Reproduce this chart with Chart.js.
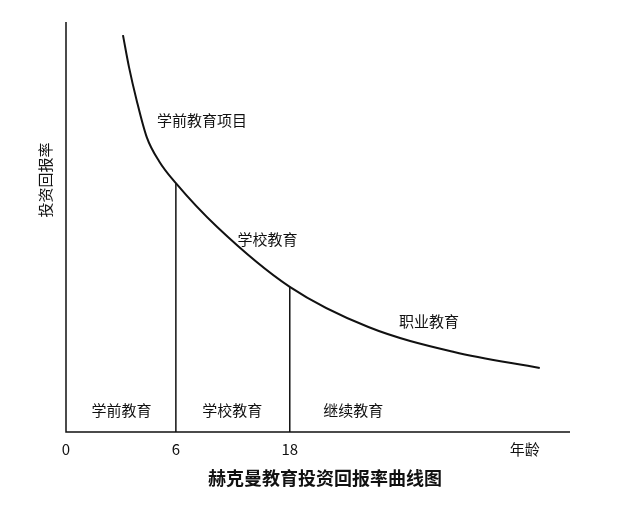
<!DOCTYPE html>
<html><head><meta charset="utf-8">
<script src="https://cdn.jsdelivr.net/npm/chart.js@4"></script>
<style>body{margin:0;background:#fff}#w{width:640px;height:518px}</style>
</head><body><div id="w"><canvas id="c"></canvas></div>
<script>
const curveX = [11.3, 12.5, 14, 16, 18.5, 21.8, 30, 44.4, 60, 77, 94];
const curveY = [96.8, 89, 81, 72, 66, 60.7, 50, 35.4, 25.6, 19.5, 15.6];
const dividers = [21.8, 44.4];
const tickPos = [0, 21.8, 44.4, 91];
const tickLabels = ["0", "6", "18", "年龄"];
const curveLabels = [{x:27,y:76,t:"学前教育项目"},{x:40,y:47,t:"学校教育"},{x:72,y:27,t:"职业教育"}];
const bandLabels = [{x:11,t:"学前教育"},{x:33,t:"学校教育"},{x:57,t:"继续教育"}];
const title = "赫克曼教育投资回报率曲线图";
const yTitle = "投资回报率";
const F = '"Noto Sans CJK SC", sans-serif';
function yAt(x){for(let i=0;i<curveX.length-1;i++){if(x>=curveX[i]&&x<=curveX[i+1]){const t=(x-curveX[i])/(curveX[i+1]-curveX[i]);return curveY[i]+t*(curveY[i+1]-curveY[i]);}}return 0;}
const ds=[{data:curveX.map((x,i)=>({x,y:curveY[i]})),borderColor:'#111',borderWidth:2,pointRadius:0,cubicInterpolationMode:'monotone'}];
dividers.forEach(d=>ds.push({data:[{x:d,y:0},{x:d,y:yAt(d)}],borderColor:'#111',borderWidth:1.5,pointRadius:0}));
const deco={id:'deco',afterDraw(ch){const c=ch.ctx,a=ch.chartArea,xs=ch.scales.x,ys=ch.scales.y;c.save();c.strokeStyle='#111';c.lineWidth=1.5;c.beginPath();c.moveTo(a.left,a.top);c.lineTo(a.left,a.bottom);c.lineTo(a.right,a.bottom);c.stroke();
c.fillStyle='#111';c.font='15px '+F;c.textAlign='center';c.textBaseline='top';
tickPos.forEach((p,i)=>c.fillText(tickLabels[i],xs.getPixelForValue(p),a.bottom+10));
c.textBaseline='middle';curveLabels.forEach(l=>c.fillText(l.t,xs.getPixelForValue(l.x),ys.getPixelForValue(l.y)));
bandLabels.forEach(l=>c.fillText(l.t,xs.getPixelForValue(l.x),a.bottom-22));
c.font='bold 18px '+F;c.fillText(title,325,478);
c.font='15px '+F;c.translate(45,180);c.rotate(-Math.PI/2);c.fillText(yTitle,0,0);c.restore();}};
new Chart(document.getElementById('c'),{type:'scatter',data:{datasets:ds},plugins:[deco],
options:{responsive:true,maintainAspectRatio:false,animation:false,showLine:true,layout:{padding:{left:66,top:22,right:70,bottom:86}},
plugins:{legend:{display:false},tooltip:{enabled:false}},
scales:{x:{display:false,min:0,max:100},y:{display:false,min:0,max:100}}}});
</script></body></html>
